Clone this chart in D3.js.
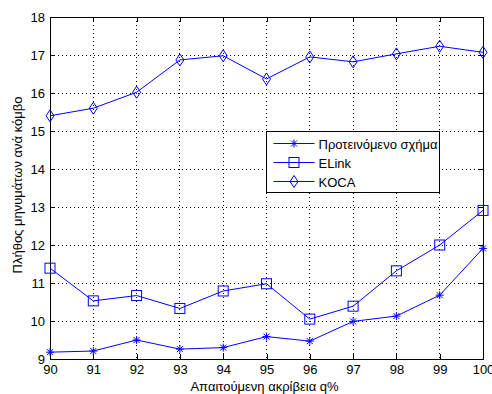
<!DOCTYPE html>
<html>
<head>
<meta charset="utf-8">
<script src="https://cdn.jsdelivr.net/npm/d3@7"></script>
<style>
  body { margin: 0; background: #fff; }
  text { font-family: "Liberation Sans", Arial, sans-serif; }
</style>
</head>
<body>
<div id="vis"></div>
<script>
var xValues = [90, 91, 92, 93, 94, 95, 96, 97, 98, 99, 100];
var proposed = [9.18, 9.21, 9.50, 9.26, 9.30, 9.59, 9.47, 9.99, 10.13, 10.68, 11.91];
var elink = [11.39, 10.53, 10.67, 10.33, 10.79, 10.98, 10.05, 10.39, 11.32, 12.00, 12.91];
var koca = [15.40, 15.60, 16.02, 16.87, 16.98, 16.37, 16.95, 16.82, 17.03, 17.23, 17.07];
var seriesNames = ["Προτεινόμενο σχήμα", "ELink", "KOCA"];
var yTicks = [9, 10, 11, 12, 13, 14, 15, 16, 17, 18];

var margin = { top: 17, right: 9, bottom: 35, left: 50 },
    width = 492 - margin.left - margin.right,
    height = 394 - margin.top - margin.bottom;

var svg = d3.select("#vis")
    .append("svg")
    .attr("width", 492)
    .attr("height", 394)
    .append("g")
    .attr("transform", "translate(" + margin.left + "," + margin.top + ")");

var x = d3.scaleLinear().domain([90, 100]).range([0, width]);
var y = d3.scaleLinear().domain([9, 18]).range([height, 0]);

// grid
svg.append("g").selectAll("line")
    .data(xValues.slice(1, -1))
    .enter().append("line")
    .attr("x1", d => x(d)).attr("x2", d => x(d))
    .attr("y1", 0).attr("y2", height)
    .attr("stroke", "#000").attr("stroke-width", 1)
    .attr("stroke-dasharray", "1,3")
    .attr("shape-rendering", "crispEdges");
svg.append("g").selectAll("line")
    .data(yTicks.slice(1, -1))
    .enter().append("line")
    .attr("x1", 0).attr("x2", width)
    .attr("y1", d => y(d)).attr("y2", d => y(d))
    .attr("stroke", "#000").attr("stroke-width", 1)
    .attr("stroke-dasharray", "1,3")
    .attr("shape-rendering", "crispEdges");

// axes, ticks inward like MATLAB
var xAxis = d3.axisBottom(x).tickValues(xValues).tickSize(-5).tickPadding(6).tickFormat(d3.format("d"));
var yAxis = d3.axisLeft(y).tickValues(yTicks).tickSize(-5).tickPadding(5).tickFormat(d3.format("d"));
var gx = svg.append("g").attr("transform", "translate(0," + height + ")").call(xAxis);
var gy = svg.append("g").call(yAxis);
var gxt = svg.append("g").call(d3.axisTop(x).tickValues(xValues).tickSize(-5).tickFormat(""));
var gyr = svg.append("g").attr("transform", "translate(" + width + ",0)")
    .call(d3.axisRight(y).tickValues(yTicks).tickSize(-5).tickFormat(""));
[gx, gy, gxt, gyr].forEach(function (g) {
    g.selectAll("path").attr("stroke", "#000").attr("shape-rendering", "crispEdges");
    g.selectAll("line").attr("stroke", "#000").attr("shape-rendering", "crispEdges");
    g.selectAll("text").attr("font-size", 13).attr("fill", "#000")
        .style("font-family", "'Liberation Sans', Arial, sans-serif");
});

var line = d3.line().x((d, i) => x(xValues[i])).y(d => y(d));
var blue = "#0000ff";

function drawMarker(g, type, cx, cy) {
    if (type === "star") {
        var s = 4;
        g.append("path")
            .attr("d", "M" + (cx - s) + "," + cy + "H" + (cx + s) +
                "M" + cx + "," + (cy - s) + "V" + (cy + s) +
                "M" + (cx - 3) + "," + (cy - 3) + "L" + (cx + 3) + "," + (cy + 3) +
                "M" + (cx - 3) + "," + (cy + 3) + "L" + (cx + 3) + "," + (cy - 3))
            .attr("stroke", blue).attr("fill", "none").attr("stroke-width", 1);
    } else if (type === "square") {
        g.append("rect")
            .attr("x", cx - 5).attr("y", cy - 5).attr("width", 10).attr("height", 10)
            .attr("stroke", blue).attr("fill", "none").attr("stroke-width", 1);
    } else {
        g.append("path")
            .attr("d", "M" + cx + "," + (cy - 6) + "L" + (cx + 4) + "," + cy +
                "L" + cx + "," + (cy + 6) + "L" + (cx - 4) + "," + cy + "Z")
            .attr("stroke", blue).attr("fill", "none").attr("stroke-width", 1);
    }
}

var series = [
    { name: seriesNames[0], values: proposed, marker: "star" },
    { name: seriesNames[1], values: elink, marker: "square" },
    { name: seriesNames[2], values: koca, marker: "diamond" }
];

series.forEach(function (s) {
    svg.append("path")
        .datum(s.values)
        .attr("d", line)
        .attr("fill", "none")
        .attr("stroke", blue)
        .attr("stroke-width", 1);
    var mg = svg.append("g");
    s.values.forEach(function (v, i) {
        drawMarker(mg, s.marker, x(xValues[i]), y(v));
    });
});

// legend
var lg = svg.append("g").attr("transform", "translate(" + (266.5 - margin.left) + "," + (131.5 - margin.top) + ")");
lg.append("rect").attr("width", 173).attr("height", 61)
    .attr("fill", "#fff").attr("stroke", "#000").attr("stroke-width", 1);
series.forEach(function (s, i) {
    var ly = 12 + i * 19;
    lg.append("line").attr("x1", 7).attr("x2", 48).attr("y1", ly).attr("y2", ly)
        .attr("stroke", blue).attr("stroke-width", 1);
    drawMarker(lg, s.marker, 27.5, ly);
    lg.append("text").attr("x", 52).attr("y", ly + 5)
        .attr("font-size", 13).text(s.name);
});

// axis labels
svg.append("text")
    .attr("x", width / 2 - 2).attr("y", height + 32)
    .attr("text-anchor", "middle").attr("font-size", 13)
    .text("Απαιτούμενη ακρίβεια q%");
svg.append("text")
    .attr("transform", "translate(" + (-28) + "," + (height / 2 - 3) + ") rotate(-90)")
    .attr("text-anchor", "middle").attr("font-size", 13)
    .text("Πλήθος μηνυμάτων ανά κόμβο");
</script>
</body>
</html>
